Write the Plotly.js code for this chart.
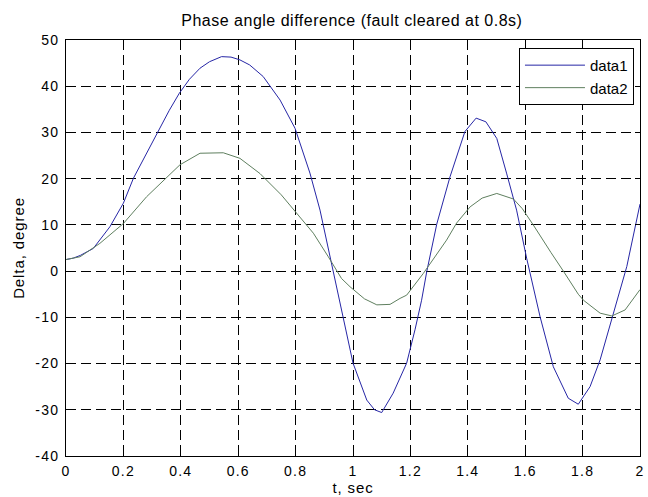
<!DOCTYPE html>
<html>
<head>
<meta charset="utf-8">
<script src="https://cdn.plot.ly/plotly-3.0.1.min.js"></script>
<style>
html,body{margin:0;padding:0;background:#fff;}
#chart{width:648px;height:497px;}
#chart .xtick text,#chart .ytick text{letter-spacing:1.2px;}
#chart .gtitle{letter-spacing:0.5px;}
#chart .xtitle,#chart .ytitle{letter-spacing:0.9px;}
</style>
</head>
<body>
<div id="chart"></div>
<script>
const t1 = [0,0.025,0.05,0.095,0.153,0.2,0.235,0.28,0.32,0.36,0.395,0.43,0.467,0.5,0.542,0.575,0.606,0.64,0.687,0.746,0.798,0.85,0.885,0.92,0.966,1.0,1.048,1.075,1.1,1.14,1.187,1.216,1.239,1.257,1.292,1.338,1.39,1.429,1.463,1.501,1.535,1.57,1.605,1.652,1.698,1.75,1.785,1.826,1.861,1.907,1.954,2.0];
const data1 = [2.5,2.8,3.4,4.9,9.6,14.7,20.1,25.5,30.2,34.8,38.5,41.5,43.9,45.3,46.4,46.3,45.7,44.6,42.1,37.0,30.9,21.2,13.2,3.0,-10.6,-19.9,-27.9,-30.0,-30.6,-26.4,-19.9,-12.7,-6.3,-0.1,10.2,20.4,30.2,33.1,32.3,28.7,21.2,13.2,2.8,-9.9,-20.7,-27.5,-28.8,-25.0,-19.2,-9.1,1.0,14.5];
const t2 = [0,0.049,0.118,0.2,0.281,0.34,0.397,0.467,0.548,0.606,0.676,0.75,0.798,0.862,0.914,0.96,0.99,1.04,1.083,1.129,1.164,1.187,1.245,1.326,1.361,1.408,1.45,1.501,1.559,1.59,1.628,1.652,1.69,1.733,1.785,1.803,1.861,1.902,1.948,2.0];
const data2 = [2.5,3.1,6.0,10.3,16.1,19.7,23.0,25.5,25.6,24.4,21.1,16.5,12.9,8.2,3.1,-1.6,-3.4,-6.0,-7.3,-7.2,-5.9,-5.2,-0.5,6.7,10.4,13.9,15.8,16.8,15.6,13.5,10.0,7.6,4.0,0.0,-5.0,-6.3,-9.1,-9.7,-8.4,-4.0];
const seriesNames = ["data1","data2"];
const xTicks = [0,0.2,0.4,0.6,0.8,1,1.2,1.4,1.6,1.8,2];
const xTickText = ["0","0.2","0.4","0.6","0.8","1","1.2","1.4","1.6","1.8","2"];
const yTicks = [-40,-30,-20,-10,0,10,20,30,40,50];
const yTickText = ["-40","-30","-20","-10","0","10","20","30","40","50"];

const font = "Liberation Sans, Arial, sans-serif";
const traces = [
  {x: t1, y: data1, name: seriesNames[0], mode: "lines", line: {color: "#2626a6", width: 1}},
  {x: t2, y: data2, name: seriesNames[1], mode: "lines", line: {color: "#5f7f5f", width: 1}}
];
const axisCommon = {
  showline: true, linecolor: "#000", linewidth: 1, mirror: "ticks",
  ticks: "inside", ticklen: 5, tickcolor: "#000", tickwidth: 1,
  showgrid: true, gridcolor: "#000", gridwidth: 1, griddash: "10px,5px",
  zeroline: false, tickfont: {family: font, size: 14, color: "#000"}
};
const layout = {
  width: 648, height: 497,
  margin: {l: 66, r: 8, t: 40, b: 41},
  paper_bgcolor: "#fff", plot_bgcolor: "#fff",
  font: {family: font, color: "#000"},
  title: {text: "Phase angle difference (fault cleared at 0.8s)", font: {family: font, size: 16, color: "#000"}, x: 0.543, xanchor: "center", y: 0.958, yanchor: "middle"},
  xaxis: Object.assign({}, axisCommon, {range: [0, 2], tickvals: xTicks, ticktext: xTickText, ticklabelstandoff: 2,
    title: {text: "t, sec", font: {family: font, size: 15, color: "#000"}, standoff: 4}}),
  yaxis: Object.assign({}, axisCommon, {range: [-40, 50], tickvals: yTicks, ticktext: yTickText, ticklabelstandoff: 3,
    title: {text: "Delta, degree", font: {family: font, size: 15, color: "#000"}, standoff: 10}}),
  showlegend: true,
  legend: {x: 0.9895, xanchor: "right", y: 0.981, yanchor: "top", bgcolor: "#fff", bordercolor: "#000", borderwidth: 1,
    font: {family: font, size: 15, color: "#000"}, tracegroupgap: 0, itemwidth: 60}
};
Plotly.newPlot("chart", traces, layout, {staticPlot: true, displayModeBar: false});
</script>
</body>
</html>
